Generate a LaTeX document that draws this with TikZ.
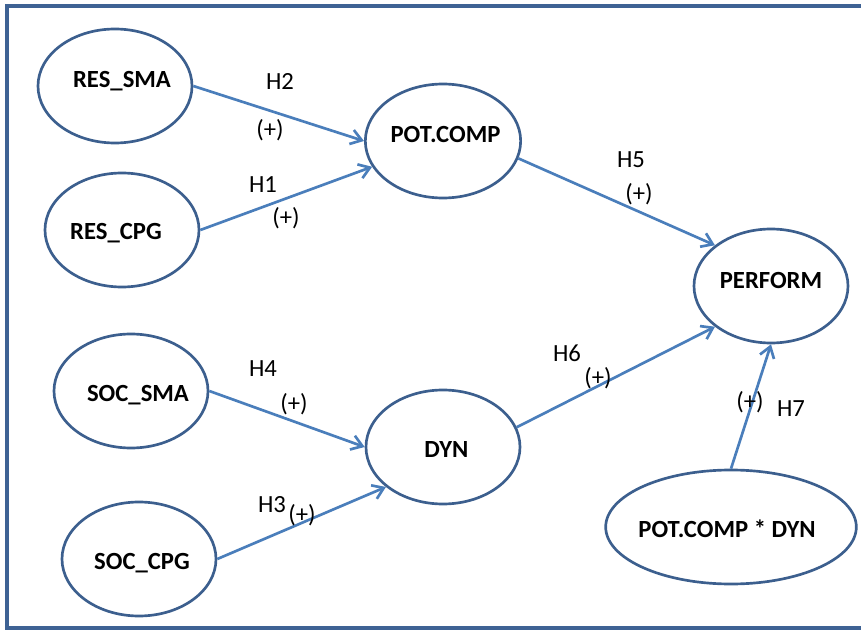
\documentclass[tikz,border=0pt]{standalone}
\usepackage{fontspec}
\setmainfont{Carlito}
\usepackage{xcolor}
\usetikzlibrary{shapes.geometric,arrows.meta}

\definecolor{ovalblue}{RGB}{60,95,142}
\definecolor{arrowblue}{RGB}{74,126,187}
\definecolor{frameblue}{RGB}{62,98,148}
\newcommand{\hypfont}{\fontsize{18.5}{22}\selectfont}

\tikzset{
  construct/.style={ellipse,draw=ovalblue,line width=2pt,inner sep=0pt,
    minimum width=115.5pt,minimum height=85.5pt,
    font=\hypfont\bfseries,text height=15pt,text depth=0pt},
  raised/.style={text height=12pt,text depth=9pt},
  nudge/.style={execute at begin node={\hspace*{#1}},execute at end node={\hspace*{-#1}}},
  hyp/.style={arrowblue,line width=2pt,-{Straight Barb[length=8pt,width=11pt]}},
  hyplabel/.style={inner sep=0pt,font=\hypfont}
}

\begin{document}
\begin{tikzpicture}[x=0.75pt,y=-0.75pt]
\useasboundingbox (0,0) rectangle (861,631);
\draw[frameblue,line width=3pt] (861,6) -- (7,6) -- (7,628) -- (861,628);
% constructs
\node[construct,raised,nudge=5.25pt] (ressma) at (115,86) {RES\_SMA};
\node[construct,nudge=-4.5pt] (rescpg) at (122,230) {RES\_CPG};
\node[construct,raised,nudge=1.9pt] (potcomp) at (443,141) {POT.COMP};
\node[construct,raised] (perform) at (771,286) {PERFORM};
\node[construct,nudge=5.25pt] (socsma) at (131,391) {SOC\_SMA};
\node[construct,nudge=2.25pt] (soccpg) at (139,559) {SOC\_CPG};
\node[construct,nudge=2.6pt] (dyn) at (443,447) {DYN};
\node[construct,nudge=-3pt,minimum width=187.5pt] (potdyn) at (731,527) {POT.COMP * DYN};
% hypotheses
\draw[hyp] (ressma.east) -- (potcomp.west);
\draw[hyp] (rescpg.east) -- (potcomp.200);
\draw[hyp] (potcomp.-13) -- (perform.144);
\draw[hyp] (dyn.15) -- (perform.216);
\draw[hyp] (potdyn.north) -- (perform.south);
\draw[hyp] (socsma.east) -- (dyn.west);
\draw[hyp] (soccpg.east) -- (dyn.215);
% labels
\node[hyplabel] (h2) at (280,81) {H2};
\node[hyplabel] (s2) at (270,130) {(+)};
\node[hyplabel] (h1) at (263,185) {H1};
\node[hyplabel] (s1) at (286,218) {(+)};
\node[hyplabel] (h5) at (631,160) {H5};
\node[hyplabel] (s5) at (639,194) {(+)};
\node[hyplabel] (h6) at (567,353) {H6};
\node[hyplabel] (s6) at (598,378) {(+)};
\node[hyplabel] (s7) at (750,402) {(+)};
\node[hyplabel] (h7) at (791,409) {H7};
\node[hyplabel] (h4) at (263,369) {H4};
\node[hyplabel] (s4) at (294,404) {(+)};
\node[hyplabel] (h3) at (272,505) {H3};
\node[hyplabel] (s3) at (302,515) {(+)};
\end{tikzpicture}
\end{document}
